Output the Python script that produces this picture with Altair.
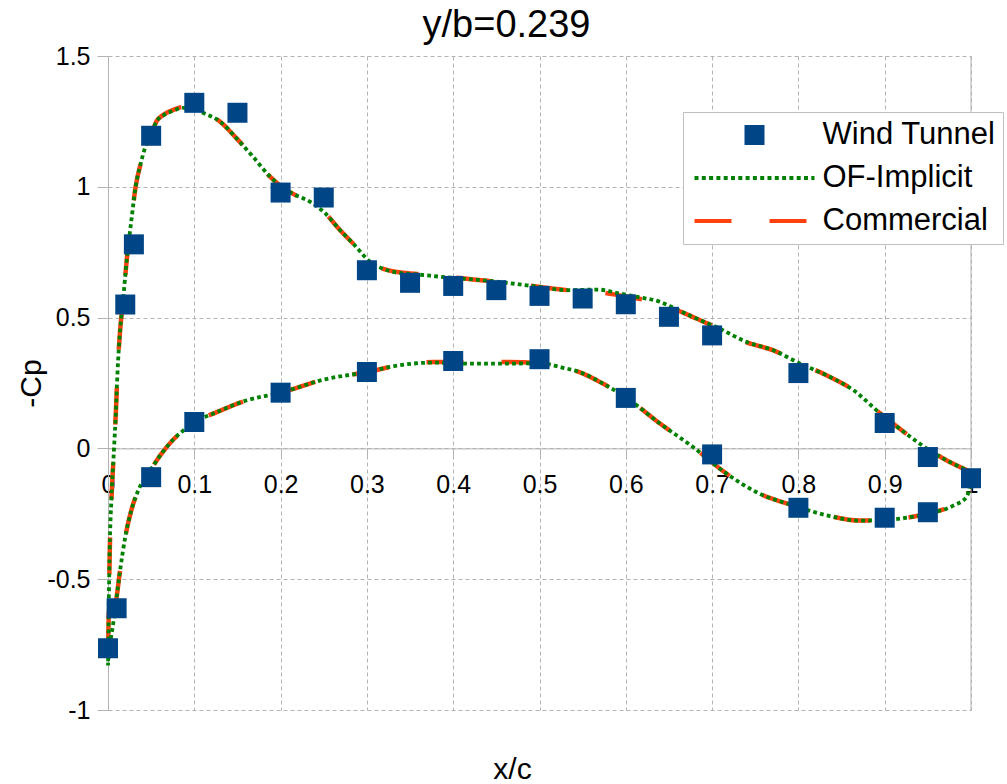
import altair as alt
import pandas as pd

FONT = "Liberation Sans"
TITLE = "y/b=0.239"
X_TITLE = "x/c"
Y_TITLE = "-Cp"

SERIES = ["Wind Tunnel", "OF-Implicit", "Commercial"]
COLORS = ["#004586", "#008000", "#ff420e"]

X_TICKS = [0, 0.1, 0.2, 0.3, 0.4, 0.5, 0.6, 0.7, 0.8, 0.9, 1]
Y_TICKS = [-1, -0.5, 0, 0.5, 1, 1.5]

# Wind tunnel pressure taps (upper surface, then lower surface)
wt_x = [0.0, 0.01, 0.02, 0.03, 0.05, 0.10, 0.15, 0.20, 0.25, 0.30, 0.35, 0.40,
        0.45, 0.50, 0.55, 0.60, 0.65, 0.70, 0.80, 0.90, 0.95, 1.00,
        0.05, 0.10, 0.20, 0.30, 0.40, 0.50, 0.60, 0.70, 0.80, 0.90, 0.95]
wt_y = [-0.764, -0.611, 0.55, 0.78, 1.195, 1.321, 1.283, 0.978, 0.959, 0.681,
        0.633, 0.621, 0.605, 0.583, 0.573, 0.551, 0.503, 0.432, 0.288, 0.097,
        -0.033, -0.114,
        -0.110, 0.101, 0.213, 0.292, 0.334, 0.341, 0.193, -0.023, -0.227,
        -0.265, -0.244]

# OF-Implicit, upper surface (leading edge -> trailing edge)
of_up_x = [0.0, 0.001, 0.002, 0.004, 0.007, 0.009, 0.011, 0.014, 0.017, 0.022,
           0.027, 0.032, 0.038, 0.043, 0.05, 0.056, 0.065, 0.075, 0.087, 0.099,
           0.11, 0.13, 0.149, 0.168, 0.188, 0.199, 0.215, 0.234, 0.25, 0.269,
           0.284, 0.304, 0.32, 0.335, 0.358, 0.396, 0.423, 0.462, 0.501, 0.532,
           0.568, 0.593, 0.615, 0.64, 0.655, 0.678, 0.705, 0.74, 0.771, 0.802,
           0.833, 0.864, 0.895, 0.925, 0.949, 0.972, 1.0]
of_up_y = [-0.83, -0.57, -0.38, -0.19, 0.0, 0.13, 0.29, 0.45, 0.55, 0.73,
           0.87, 1.0, 1.09, 1.15, 1.2, 1.249, 1.275, 1.29, 1.302, 1.3,
           1.283, 1.249, 1.185, 1.115, 1.038, 1.006, 0.972, 0.943, 0.904, 0.834,
           0.783, 0.713, 0.685, 0.672, 0.665, 0.653, 0.646, 0.633, 0.617, 0.605,
           0.607, 0.592, 0.578, 0.56, 0.538, 0.502, 0.464, 0.407, 0.375, 0.324,
           0.279, 0.222, 0.133, 0.056, -0.001, -0.046, -0.09]

# OF-Implicit, lower surface (leading edge -> trailing edge)
of_lo_x = [0.0, 0.002, 0.006, 0.010, 0.014, 0.020, 0.027, 0.035, 0.049, 0.062,
           0.076, 0.085, 0.1, 0.122, 0.161, 0.199, 0.25, 0.3, 0.338, 0.377,
           0.419, 0.462, 0.501, 0.525, 0.547, 0.575, 0.601, 0.64, 0.678, 0.717,
           0.755, 0.794, 0.833, 0.871, 0.902, 0.949, 0.98, 0.995, 1.0]
of_lo_y = [-0.83, -0.76, -0.67, -0.569, -0.467, -0.339, -0.237, -0.161, -0.084, -0.02,
           0.035, 0.062, 0.1, 0.133, 0.184, 0.212, 0.263, 0.292, 0.318, 0.328,
           0.324, 0.324, 0.326, 0.31, 0.291, 0.245, 0.193, 0.094, 0.005, -0.097,
           -0.173, -0.218, -0.256, -0.276, -0.273, -0.25, -0.218, -0.185, -0.12]

# Commercial solver, upper surface
com_up_x = [0.0, 0.001, 0.002, 0.004, 0.007, 0.009, 0.011, 0.014, 0.017, 0.022,
            0.027, 0.032, 0.038, 0.043, 0.05, 0.056, 0.065, 0.075, 0.087, 0.099,
            0.11, 0.13, 0.149, 0.168, 0.188, 0.199, 0.215, 0.234, 0.25, 0.269,
            0.284, 0.304, 0.32, 0.335, 0.358, 0.396, 0.423, 0.462, 0.501, 0.532,
            0.568, 0.593, 0.615, 0.64, 0.655, 0.678, 0.705, 0.74, 0.771, 0.802,
            0.833, 0.864, 0.895, 0.925, 0.949, 0.972, 1.0]
com_up_y = [-0.76, -0.6, -0.4, -0.2, 0.0, 0.13, 0.29, 0.45, 0.55, 0.73,
            0.87, 1.0, 1.09, 1.15, 1.2, 1.249, 1.277, 1.293, 1.305, 1.302,
            1.285, 1.249, 1.185, 1.115, 1.038, 1.006, 0.972, 0.943, 0.904, 0.834,
            0.783, 0.713, 0.685, 0.674, 0.667, 0.655, 0.646, 0.633, 0.617, 0.605,
            0.598, 0.585, 0.572, 0.555, 0.535, 0.502, 0.462, 0.405, 0.375, 0.324,
            0.279, 0.222, 0.133, 0.056, -0.001, -0.046, -0.09]

# Commercial solver, lower surface
com_lo_x = [0.0, 0.003, 0.006, 0.010, 0.014, 0.020, 0.027, 0.035, 0.049, 0.062,
            0.076, 0.085, 0.1, 0.122, 0.161, 0.199, 0.25, 0.3, 0.338, 0.377,
            0.419, 0.462, 0.501, 0.525, 0.547, 0.575, 0.601, 0.64, 0.678, 0.717,
            0.755, 0.794, 0.833, 0.871, 0.902, 0.949, 0.98, 0.995, 1.0]
com_lo_y = [-0.76, -0.7, -0.65, -0.569, -0.467, -0.339, -0.237, -0.161, -0.084, -0.02,
            0.035, 0.062, 0.1, 0.133, 0.184, 0.212, 0.263, 0.292, 0.318, 0.33,
            0.33, 0.33, 0.326, 0.31, 0.291, 0.245, 0.193, 0.094, 0.005, -0.097,
            -0.173, -0.218, -0.256, -0.276, -0.273, -0.25, -0.218, -0.19, -0.12]


def loop_frame(name, ux, uy, lx, ly):
    """Closed contour: trailing edge -> leading edge on top, back along the bottom."""
    xs = list(reversed(ux)) + lx[1:]
    ys = list(reversed(uy)) + ly[1:]
    return pd.DataFrame({"series": name, "i": range(len(xs)), "x": xs, "y": ys})


wt_df = pd.DataFrame({"series": SERIES[0], "x": wt_x, "y": wt_y})
of_df = loop_frame(SERIES[1], of_up_x, of_up_y, of_lo_x, of_lo_y)
com_df = loop_frame(SERIES[2], com_up_x, com_up_y, com_lo_x, com_lo_y)
edge_df = pd.DataFrame({"x": [X_TICKS[-1]]})

GRID = "#b3b3b3"

x_scale = alt.Scale(domain=[X_TICKS[0], X_TICKS[-1]], nice=False, zero=False)
y_scale = alt.Scale(domain=[Y_TICKS[0], Y_TICKS[-1]], nice=False, zero=False)

x_axis = alt.Axis(
    values=X_TICKS, labelExpr="'' + datum.value", offset=-261.6,
    domainColor=GRID, domainWidth=1, tickColor=GRID, tickSize=8,
    labelFont=FONT, labelFontSize=25, labelColor="black", labelPadding=16,
    labelFlush=False, labelOverlap=False,
    grid=True, gridColor=GRID, gridDash=[4, 3], gridWidth=1,
    title=X_TITLE, titleFont=FONT, titleFontSize=30, titleFontWeight="normal",
    titleColor="black", titleX=404, titleY=330, titleAlign="center",
    titleBaseline="alphabetic",
)
y_axis = alt.Axis(
    values=Y_TICKS, labelExpr="'' + datum.value",
    domainColor=GRID, domainWidth=1, tickColor=GRID, tickSize=11,
    labelFont=FONT, labelFontSize=25, labelColor="black", labelPadding=7,
    labelOverlap=False,
    grid=True, gridColor=GRID, gridDash=[4, 3], gridWidth=1,
    title=Y_TITLE, titleFont=FONT, titleFontSize=30, titleFontWeight="normal",
    titleColor="black", titleX=-77, titleY=327, titleAngle=270,
    titleAlign="center", titleBaseline="middle",
)

legend = alt.Legend(
    title=None, orient="none", legendX=575, legendY=56, direction="vertical",
    symbolType={"expr": "datum.value === 'Wind Tunnel' ? "
                        "'M-0.1333,-0.1333H0.1333V0.1333H-0.1333Z' : 'stroke'"},
    symbolDash={"expr": "datum.value === 'OF-Implicit' ? [4, 3.3] : "
                        "datum.value === 'Commercial' ? [37, 38] : [1, 0]"},
    symbolStrokeColor={"expr": "scale('color', datum.value)"},
    symbolSize=14400, symbolStrokeWidth=4, symbolOffset=2, symbolOpacity=1,
    clipHeight=31,
    labelFont=FONT, labelFontSize=31, labelColor="black", labelOffset=6,
    labelLimit=500,
    padding=7.5, rowPadding=11, strokeColor="#c0c0c0", fillColor="white",
)

color = alt.Color("series:N", scale=alt.Scale(domain=SERIES, range=COLORS),
                  legend=legend)
x_enc = alt.X("x:Q", scale=x_scale, axis=x_axis)
y_enc = alt.Y("y:Q", scale=y_scale, axis=y_axis)

edge = alt.Chart(edge_df).mark_rule(color=GRID, strokeWidth=1).encode(
    x=alt.X("x:Q", scale=x_scale))

commercial = alt.Chart(com_df).mark_line(interpolate="monotone").encode(
    x=x_enc, y=y_enc, color=color, order="i:Q",
    strokeWidth=alt.value(4.5), strokeDash=alt.value([37, 38]))

of_implicit = alt.Chart(of_df).mark_line(interpolate="monotone").encode(
    x=x_enc, y=y_enc, color=color, order="i:Q",
    strokeWidth=alt.value(3.8), strokeDash=alt.value([3.8, 3.2]))

tunnel = alt.Chart(wt_df).mark_point(shape="square", filled=True, size=400,
                                     opacity=1).encode(
    x=x_enc, y=y_enc, color=color)

chart = alt.layer(edge, commercial, of_implicit, tunnel).properties(
    width=863, height=654,
    title=alt.TitleParams(TITLE, font=FONT, fontSize=38, fontWeight="normal",
                          color="black", anchor="middle", dx=-33, offset=-31,
                          baseline="alphabetic"),
    autosize=alt.AutoSizeParams(type="none"),
    padding={"left": 108, "top": 56, "right": 36, "bottom": 74},
    background="white",
).configure_view(stroke=None)

chart.save("out.html", embed_options={"renderer": "svg", "actions": False})
